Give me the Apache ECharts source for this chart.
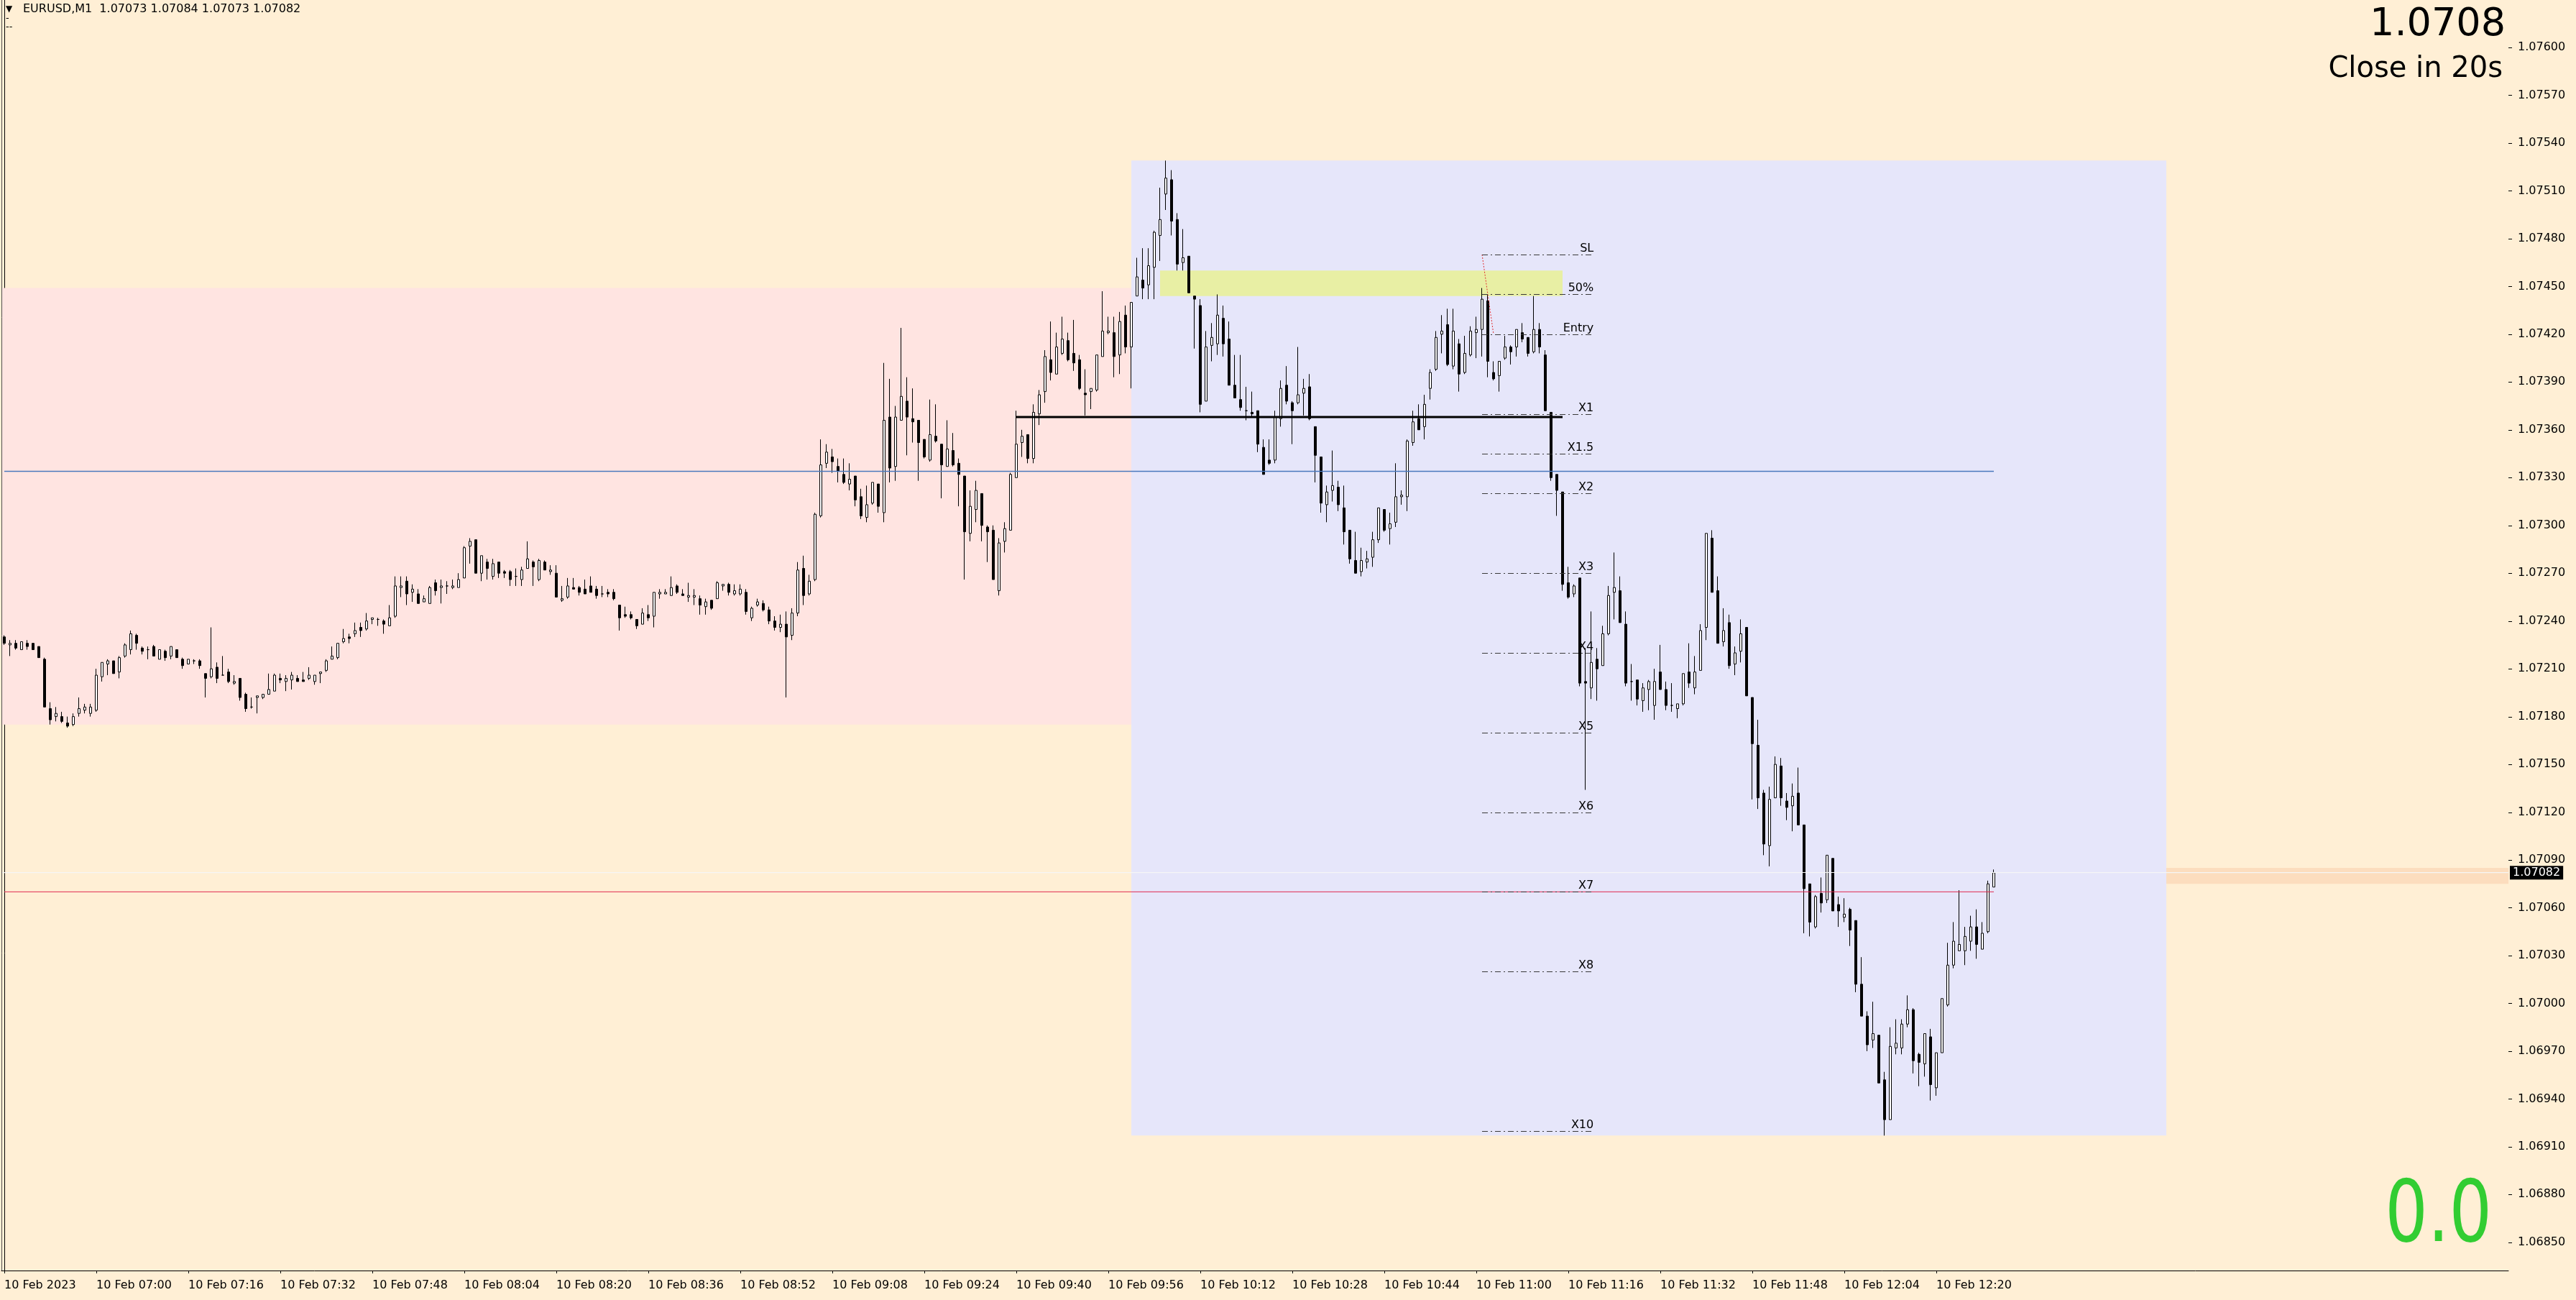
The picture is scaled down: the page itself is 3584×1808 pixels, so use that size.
<!DOCTYPE html>
<html>
<head>
<meta charset="utf-8">
<title>EURUSD,M1</title>
<script src="https://cdn.jsdelivr.net/npm/echarts@6.0.0/dist/echarts.min.js"></script>
<style>
html,body{margin:0;padding:0;background:#FFEFD5;overflow:hidden;}
#chart{width:3584px;height:1808px;}
</style>
</head>
<body>
<div id="chart"></div>
<script>
const FONT = '"DejaVu Sans", Verdana, sans-serif';

// ---- axis categories / ticks ----
const startHour = 6, startMinute = 44, slotCount = 436;
const xTickLabels = ['10 Feb 2023','10 Feb 07:00','10 Feb 07:16','10 Feb 07:32','10 Feb 07:48','10 Feb 08:04','10 Feb 08:20','10 Feb 08:36','10 Feb 08:52','10 Feb 09:08','10 Feb 09:24','10 Feb 09:40','10 Feb 09:56','10 Feb 10:12','10 Feb 10:28','10 Feb 10:44','10 Feb 11:00','10 Feb 11:16','10 Feb 11:32','10 Feb 11:48','10 Feb 12:04','10 Feb 12:20'];
const xTickStep = 16;
const yTickValues = [1.06850,1.06880,1.06910,1.06940,1.06970,1.07000,1.07030,1.07060,1.07090,1.07120,1.07150,1.07180,1.07210,1.07240,1.07270,1.07300,1.07330,1.07360,1.07390,1.07420,1.07450,1.07480,1.07510,1.07540,1.07570,1.07600];
const yMin = 1.068323, yMax = 1.076298;

// ---- candles (M1, 06:44 .. 12:30) ----
const opens = [
1.07230,1.07225,1.07226,1.07222,1.07226,1.07226,1.07224,1.07216,1.07185,1.07180,
1.07180,1.07176,1.07175,1.07182,1.07184,1.07182,1.07184,1.07205,1.07213,1.07215,
1.07208,1.07218,1.07222,1.07231,1.07223,1.07222,1.07224,1.07216,1.07221,1.07218,
1.07222,1.07216,1.07213,1.07215,1.07215,1.07207,1.07205,1.07211,1.07206,1.07208,
1.07201,1.07204,1.07194,1.07186,1.07192,1.07192,1.07194,1.07196,1.07204,1.07202,
1.07203,1.07204,1.07203,1.07204,1.07202,1.07207,1.07209,1.07216,1.07217,1.07227,
1.07230,1.07232,1.07236,1.07235,1.07241,1.07241,1.07240,1.07237,1.07243,1.07261,
1.07265,1.07258,1.07257,1.07252,1.07251,1.07264,1.07261,1.07262,1.07261,1.07261,
1.07267,1.07287,1.07291,1.07270,1.07277,1.07268,1.07277,1.07271,1.07271,1.07268,
1.07266,1.07273,1.07277,1.07266,1.07277,1.07271,1.07270,1.07253,1.07255,1.07261,
1.07261,1.07260,1.07262,1.07260,1.07257,1.07258,1.07258,1.07250,1.07244,1.07244,
1.07241,1.07238,1.07244,1.07243,1.07257,1.07257,1.07256,1.07262,1.07257,1.07255,
1.07255,1.07254,1.07249,1.07253,1.07254,1.07262,1.07263,1.07257,1.07257,1.07258,
1.07242,1.07250,1.07251,1.07247,1.07240,1.07236,1.07238,1.07231,1.07245,1.07273,
1.07257,1.07266,1.07306,1.07339,1.07343,1.07337,1.07332,1.07326,1.07331,1.07318,
1.07305,1.07314,1.07326,1.07308,1.07368,1.07337,1.07366,1.07378,1.07367,1.07366,
1.07354,1.07341,1.07356,1.07351,1.07337,1.07347,1.07339,1.07331,1.07295,1.07310,
1.07320,1.07299,1.07297,1.07259,1.07290,1.07297,1.07330,1.07352,1.07357,1.07342,
1.07370,1.07384,1.07404,1.07395,1.07408,1.07416,1.07408,1.07404,1.07383,1.07384,
1.07385,1.07406,1.07421,1.07421,1.07407,1.07432,1.07412,1.07444,1.07454,1.07451,
1.07462,1.07482,1.07508,1.07517,1.07492,1.07465,1.07469,1.07444,1.07438,1.07378,
1.07413,1.07414,1.07430,1.07417,1.07388,1.07379,1.07372,1.07371,1.07372,1.07349,
1.07341,1.07341,1.07367,1.07388,1.07377,1.07377,1.07383,1.07387,1.07362,1.07343,
1.07313,1.07322,1.07324,1.07311,1.07297,1.07278,1.07271,1.07277,1.07280,1.07291,
1.07310,1.07298,1.07302,1.07318,1.07318,1.07352,1.07367,1.07362,1.07386,1.07398,
1.07420,1.07426,1.07400,1.07414,1.07396,1.07407,1.07421,1.07423,1.07441,1.07396,
1.07394,1.07405,1.07412,1.07412,1.07421,1.07418,1.07409,1.07423,1.07407,1.07371,
1.07332,1.07321,1.07264,1.07257,1.07267,1.07202,1.07198,1.07216,1.07212,1.07232,
1.07258,1.07259,1.07238,1.07202,1.07203,1.07190,1.07197,1.07187,1.07208,1.07197,
1.07187,1.07185,1.07188,1.07208,1.07198,1.07209,1.07236,1.07292,1.07259,1.07227,
1.07239,1.07213,1.07221,1.07236,1.07192,1.07162,1.07132,1.07099,1.07129,1.07149,
1.07127,1.07124,1.07132,1.07112,1.07075,1.07048,1.07069,1.07065,1.07091,1.07062,
1.07054,1.07059,1.07052,1.07012,1.06992,1.06977,1.06980,1.06952,1.06927,1.06972,
1.06972,1.06987,1.06996,1.06968,1.06962,1.06979,1.06947,1.06969,1.06999,1.07024,
1.07033,1.07033,1.07039,1.07048,1.07034,1.07045,1.07073];
const closes = [
1.07226,1.07226,1.07223,1.07227,1.07224,1.07222,1.07217,1.07186,1.07178,1.07182,
1.07177,1.07174,1.07180,1.07185,1.07186,1.07186,1.07206,1.07214,1.07215,1.07207,
1.07217,1.07225,1.07232,1.07226,1.07221,1.07222,1.07218,1.07222,1.07217,1.07224,
1.07217,1.07212,1.07216,1.07215,1.07212,1.07204,1.07210,1.07204,1.07206,1.07202,
1.07202,1.07192,1.07185,1.07186,1.07193,1.07194,1.07197,1.07206,1.07203,1.07204,
1.07206,1.07202,1.07202,1.07206,1.07206,1.07208,1.07215,1.07218,1.07226,1.07229,
1.07229,1.07234,1.07234,1.07240,1.07242,1.07241,1.07238,1.07242,1.07262,1.07262,
1.07257,1.07260,1.07251,1.07254,1.07261,1.07259,1.07262,1.07262,1.07262,1.07266,
1.07286,1.07290,1.07270,1.07281,1.07273,1.07276,1.07270,1.07270,1.07266,1.07268,
1.07272,1.07279,1.07274,1.07278,1.07272,1.07272,1.07255,1.07254,1.07262,1.07260,
1.07258,1.07257,1.07258,1.07256,1.07257,1.07257,1.07254,1.07242,1.07243,1.07242,
1.07237,1.07245,1.07242,1.07258,1.07258,1.07258,1.07261,1.07258,1.07256,1.07256,
1.07256,1.07250,1.07252,1.07248,1.07264,1.07263,1.07258,1.07259,1.07260,1.07246,
1.07248,1.07252,1.07247,1.07240,1.07236,1.07238,1.07230,1.07245,1.07272,1.07256,
1.07265,1.07307,1.07338,1.07346,1.07340,1.07334,1.07327,1.07329,1.07316,1.07306,
1.07313,1.07327,1.07312,1.07366,1.07336,1.07368,1.07381,1.07368,1.07365,1.07352,
1.07343,1.07357,1.07353,1.07338,1.07348,1.07338,1.07332,1.07296,1.07312,1.07322,
1.07300,1.07296,1.07266,1.07289,1.07298,1.07332,1.07351,1.07356,1.07342,1.07371,
1.07382,1.07406,1.07396,1.07412,1.07417,1.07404,1.07402,1.07386,1.07382,1.07386,
1.07407,1.07422,1.07422,1.07406,1.07428,1.07412,1.07440,1.07456,1.07449,1.07463,
1.07484,1.07492,1.07518,1.07491,1.07464,1.07468,1.07446,1.07442,1.07376,1.07412,
1.07418,1.07432,1.07414,1.07388,1.07380,1.07374,1.07372,1.07370,1.07351,1.07332,
1.07339,1.07368,1.07386,1.07378,1.07372,1.07382,1.07386,1.07367,1.07344,1.07314,
1.07321,1.07325,1.07313,1.07296,1.07279,1.07270,1.07278,1.07279,1.07291,1.07311,
1.07297,1.07301,1.07318,1.07319,1.07353,1.07365,1.07360,1.07376,1.07396,1.07418,
1.07422,1.07401,1.07422,1.07395,1.07408,1.07422,1.07423,1.07442,1.07403,1.07392,
1.07403,1.07412,1.07409,1.07423,1.07417,1.07408,1.07423,1.07412,1.07372,1.07330,
1.07322,1.07263,1.07255,1.07262,1.07201,1.07201,1.07214,1.07210,1.07232,1.07256,
1.07261,1.07239,1.07201,1.07202,1.07191,1.07198,1.07202,1.07202,1.07197,1.07187,
1.07187,1.07188,1.07207,1.07201,1.07208,1.07234,1.07295,1.07258,1.07226,1.07234,
1.07212,1.07220,1.07232,1.07193,1.07163,1.07129,1.07100,1.07128,1.07150,1.07129,
1.07123,1.07130,1.07112,1.07072,1.07051,1.07067,1.07063,1.07093,1.07058,1.07058,
1.07056,1.07046,1.07012,1.06992,1.06974,1.06981,1.06950,1.06927,1.06973,1.06975,
1.06987,1.06996,1.06964,1.06963,1.06981,1.06949,1.06969,1.07003,1.07024,1.07039,
1.07037,1.07042,1.07048,1.07037,1.07044,1.07075,1.07082];
const lows = [
1.07225,1.07218,1.07222,1.07222,1.07222,1.07222,1.07217,1.07186,1.07175,1.07177,
1.07176,1.07173,1.07174,1.07180,1.07182,1.07180,1.07183,1.07202,1.07206,1.07207,
1.07204,1.07217,1.07219,1.07222,1.07219,1.07216,1.07218,1.07216,1.07215,1.07216,
1.07217,1.07210,1.07213,1.07213,1.07210,1.07192,1.07204,1.07201,1.07206,1.07201,
1.07200,1.07190,1.07183,1.07185,1.07182,1.07191,1.07194,1.07196,1.07201,1.07196,
1.07197,1.07202,1.07202,1.07203,1.07200,1.07201,1.07208,1.07216,1.07216,1.07226,
1.07226,1.07230,1.07230,1.07234,1.07238,1.07237,1.07232,1.07237,1.07242,1.07255,
1.07250,1.07252,1.07251,1.07252,1.07251,1.07256,1.07251,1.07257,1.07260,1.07261,
1.07267,1.07276,1.07270,1.07265,1.07266,1.07266,1.07267,1.07267,1.07262,1.07262,
1.07262,1.07273,1.07262,1.07265,1.07272,1.07269,1.07255,1.07252,1.07254,1.07260,
1.07256,1.07257,1.07258,1.07254,1.07255,1.07255,1.07253,1.07234,1.07242,1.07241,
1.07235,1.07238,1.07240,1.07236,1.07254,1.07257,1.07256,1.07257,1.07256,1.07252,
1.07250,1.07244,1.07244,1.07247,1.07254,1.07259,1.07256,1.07256,1.07256,1.07244,
1.07240,1.07249,1.07246,1.07238,1.07234,1.07233,1.07192,1.07228,1.07243,1.07250,
1.07256,1.07265,1.07305,1.07336,1.07333,1.07327,1.07326,1.07322,1.07312,1.07304,
1.07302,1.07313,1.07308,1.07302,1.07327,1.07328,1.07366,1.07344,1.07352,1.07328,
1.07342,1.07340,1.07352,1.07317,1.07337,1.07337,1.07312,1.07266,1.07290,1.07302,
1.07290,1.07277,1.07266,1.07256,1.07283,1.07297,1.07330,1.07343,1.07339,1.07339,
1.07363,1.07377,1.07391,1.07395,1.07407,1.07403,1.07397,1.07385,1.07369,1.07373,
1.07384,1.07406,1.07420,1.07393,1.07395,1.07408,1.07386,1.07444,1.07442,1.07442,
1.07442,1.07466,1.07498,1.07482,1.07460,1.07460,1.07446,1.07411,1.07371,1.07378,
1.07403,1.07407,1.07406,1.07388,1.07380,1.07372,1.07366,1.07368,1.07346,1.07332,
1.07338,1.07339,1.07362,1.07376,1.07351,1.07376,1.07369,1.07366,1.07327,1.07308,
1.07302,1.07315,1.07309,1.07288,1.07276,1.07270,1.07268,1.07273,1.07274,1.07289,
1.07296,1.07288,1.07299,1.07313,1.07309,1.07350,1.07360,1.07354,1.07379,1.07397,
1.07408,1.07400,1.07398,1.07384,1.07395,1.07406,1.07405,1.07406,1.07393,1.07391,
1.07384,1.07404,1.07401,1.07406,1.07415,1.07406,1.07408,1.07408,1.07372,1.07328,
1.07306,1.07259,1.07254,1.07255,1.07199,1.07134,1.07191,1.07190,1.07212,1.07231,
1.07241,1.07239,1.07199,1.07190,1.07187,1.07183,1.07184,1.07178,1.07197,1.07184,
1.07183,1.07179,1.07187,1.07198,1.07194,1.07209,1.07228,1.07258,1.07226,1.07224,
1.07210,1.07206,1.07214,1.07193,1.07128,1.07122,1.07093,1.07086,1.07129,1.07124,
1.07115,1.07108,1.07112,1.07044,1.07042,1.07047,1.07057,1.07063,1.07058,1.07048,
1.07051,1.07036,1.07007,1.06992,1.06970,1.06972,1.06950,1.06917,1.06927,1.06968,
1.06968,1.06985,1.06956,1.06948,1.06954,1.06939,1.06942,1.06969,1.06998,1.07022,
1.07033,1.07024,1.07033,1.07028,1.07034,1.07044,1.07073];
const highs = [
1.07231,1.07228,1.07228,1.07227,1.07228,1.07226,1.07224,1.07217,1.07189,1.07186,
1.07183,1.07180,1.07182,1.07192,1.07188,1.07188,1.07210,1.07214,1.07216,1.07215,
1.07218,1.07226,1.07234,1.07232,1.07224,1.07224,1.07225,1.07222,1.07222,1.07224,
1.07222,1.07217,1.07216,1.07216,1.07216,1.07207,1.07236,1.07214,1.07218,1.07210,
1.07206,1.07204,1.07195,1.07192,1.07193,1.07194,1.07207,1.07207,1.07207,1.07206,
1.07208,1.07206,1.07208,1.07211,1.07206,1.07208,1.07216,1.07224,1.07226,1.07235,
1.07232,1.07239,1.07239,1.07245,1.07242,1.07242,1.07241,1.07250,1.07268,1.07268,
1.07268,1.07263,1.07260,1.07256,1.07262,1.07266,1.07266,1.07265,1.07266,1.07270,
1.07287,1.07292,1.07291,1.07281,1.07279,1.07279,1.07277,1.07272,1.07272,1.07273,
1.07274,1.07290,1.07278,1.07279,1.07278,1.07275,1.07275,1.07262,1.07267,1.07267,
1.07262,1.07266,1.07268,1.07262,1.07262,1.07260,1.07260,1.07250,1.07249,1.07246,
1.07241,1.07248,1.07250,1.07258,1.07260,1.07260,1.07268,1.07263,1.07260,1.07264,
1.07260,1.07256,1.07254,1.07253,1.07265,1.07263,1.07264,1.07263,1.07263,1.07260,
1.07249,1.07254,1.07253,1.07249,1.07243,1.07244,1.07246,1.07248,1.07277,1.07281,
1.07269,1.07308,1.07354,1.07351,1.07348,1.07342,1.07342,1.07339,1.07331,1.07323,
1.07325,1.07327,1.07326,1.07402,1.07392,1.07375,1.07424,1.07393,1.07386,1.07366,
1.07354,1.07379,1.07376,1.07351,1.07366,1.07358,1.07342,1.07331,1.07322,1.07328,
1.07320,1.07300,1.07300,1.07292,1.07302,1.07333,1.07372,1.07360,1.07357,1.07376,
1.07385,1.07410,1.07428,1.07421,1.07431,1.07421,1.07429,1.07407,1.07398,1.07386,
1.07407,1.07447,1.07431,1.07431,1.07434,1.07438,1.07440,1.07468,1.07474,1.07474,
1.07485,1.07512,1.07529,1.07523,1.07496,1.07486,1.07469,1.07444,1.07442,1.07422,
1.07427,1.07445,1.07438,1.07428,1.07407,1.07407,1.07387,1.07384,1.07372,1.07354,
1.07354,1.07372,1.07391,1.07400,1.07378,1.07412,1.07392,1.07395,1.07362,1.07343,
1.07325,1.07347,1.07328,1.07325,1.07297,1.07296,1.07286,1.07284,1.07296,1.07311,
1.07310,1.07308,1.07339,1.07322,1.07354,1.07372,1.07376,1.07382,1.07398,1.07422,
1.07432,1.07436,1.07436,1.07417,1.07419,1.07425,1.07431,1.07449,1.07445,1.07403,
1.07403,1.07419,1.07413,1.07423,1.07427,1.07418,1.07444,1.07427,1.07410,1.07371,
1.07332,1.07321,1.07274,1.07263,1.07267,1.07223,1.07246,1.07223,1.07237,1.07262,
1.07283,1.07268,1.07246,1.07213,1.07203,1.07201,1.07203,1.07210,1.07225,1.07202,
1.07201,1.07188,1.07207,1.07226,1.07218,1.07238,1.07295,1.07297,1.07268,1.07248,
1.07244,1.07224,1.07241,1.07236,1.07192,1.07178,1.07134,1.07136,1.07155,1.07154,
1.07132,1.07138,1.07148,1.07112,1.07075,1.07068,1.07079,1.07093,1.07091,1.07067,
1.07066,1.07060,1.07052,1.07029,1.06995,1.07001,1.06980,1.06957,1.06985,1.06990,
1.06990,1.07005,1.06997,1.06969,1.06981,1.06984,1.06969,1.07003,1.07038,1.07051,
1.07071,1.07048,1.07055,1.07059,1.07051,1.07077,1.07084];

// ---- objects drawn on the chart (bar index positions, prices) ----
const zoneStart  = [-20, 196, 201, 376];
const zoneEnd    = [196, 376, 271, 470];
const zoneTop    = [1.07449, 1.07529, 1.07460, 1.07085];
const zoneBottom = [1.07175, 1.06917, 1.07444, 1.07075];
const zoneColors = ['#FFE4E1', '#E6E6FA', '#E8EFA4', '#FCDDBE'];

const levelNames  = ['SL','50%','Entry','X1','X1.5','X2','X3','X4','X5','X6','X7','X8','X10'];
const levelPrices = [1.07470,1.07445,1.07420,1.07370,1.07345,1.07320,1.07270,1.07220,1.07170,1.07120,1.07070,1.07020,1.06920];
const levelFrom = 257, levelTo = 276.4;

const blueLine  = {from: 0,   to: 346, price: 1.07334};
const redLine   = {from: 0,   to: 346, price: 1.07070};
const breakLine = {from: 176, to: 271, price: 1.07368};
const slDiagonal = [[257, 1.07470], [259, 1.07420]];

const bidPrice = 1.07082;
const headerText = 'EURUSD,M1  1.07073 1.07084 1.07073 1.07082';
const bigPriceText = '1.0708';
const countdownText = 'Close in 20s';
const spreadText = '0.0';

// ---- build ----
const lastBar = opens.length - 1;
const categories = [];
for (let i = 0; i < slotCount; i++) {
  const t = startHour * 60 + startMinute + i;
  categories.push(String(Math.floor(t / 60)).padStart(2, '0') + ':' + String(t % 60).padStart(2, '0'));
}
const candleData = opens.map((o, i) => [o, closes[i], lows[i], highs[i]]);
const zoneData = zoneStart.map((s, i) => [s, zoneEnd[i], zoneTop[i], zoneBottom[i]]);
const levelData = levelPrices.map(p => [levelFrom, levelTo, p]);
const priceTickData = yTickValues.map(v => [slotCount - 0.5, v]);
const isTick = (i) => i % xTickStep === 0 && i <= lastBar;

function renderZone(params, api) {
  const a = api.coord([api.value(0), api.value(2)]);
  const b = api.coord([api.value(1), api.value(3)]);
  return {type: 'rect', shape: {x: a[0], y: a[1], width: b[0] - a[0], height: b[1] - a[1]},
          style: {fill: zoneColors[params.dataIndex]}};
}
function renderLevel(params, api) {
  const a = api.coord([api.value(0), api.value(2)]);
  const b = api.coord([api.value(1), api.value(2)]);
  const y = Math.round(a[1]) + 0.5;
  return {type: 'group', children: [
    {type: 'line', shape: {x1: a[0], y1: y, x2: b[0], y2: y},
     style: {stroke: '#3a3a3a', lineWidth: 1, lineDash: [8, 4, 2, 4]}},
    {type: 'text', style: {text: levelNames[params.dataIndex], x: b[0], y: y - 1,
      align: 'right', verticalAlign: 'bottom', font: '16px ' + FONT, fill: '#000'}}
  ]};
}
function renderPriceTick(params, api) {
  const p = api.coord([api.value(0), api.value(1)]);
  const y = Math.round(p[1]) + 0.5;
  return {type: 'line', shape: {x1: p[0], y1: y, x2: p[0] + 5, y2: y}, style: {stroke: '#000', lineWidth: 1}};
}
function seg(obj) { return [[obj.from, obj.price], [obj.to, obj.price]]; }

const chart = echarts.init(document.getElementById('chart'), null, {renderer: 'canvas', width: 3584, height: 1808});
chart.setOption({
  animation: false,
  backgroundColor: '#FFEFD5',
  grid: {left: 2, top: 0, width: 3488, height: 1767, containLabel: false},
  xAxis: [
    {type: 'category', data: categories, boundaryGap: true,
     axisLine: {show: true, lineStyle: {color: '#000', width: 1}},
     axisTick: {show: true, alignWithLabel: true, length: 4, interval: isTick, lineStyle: {color: '#000'}},
     axisLabel: {show: true, interval: isTick, align: 'left', margin: 13, fontSize: 16, fontFamily: FONT, color: '#000',
       formatter: (v, i) => xTickLabels[i / xTickStep] || ''},
     splitLine: {show: false}},
    {type: 'value', min: -0.5, max: slotCount - 0.5, show: false}
  ],
  yAxis: [
    {type: 'value', position: 'right', min: yMin, max: yMax,
     axisLine: {show: true, lineStyle: {color: '#000', width: 1}},
     axisTick: {show: false},
     axisLabel: {show: true, customValues: yTickValues, margin: 13, fontSize: 16, fontFamily: FONT, color: '#000',
       formatter: v => v.toFixed(5)},
     splitLine: {show: false}, splitArea: {show: false}, minorTick: {show: false}, minorSplitLine: {show: false}}
  ],
  series: [
    {type: 'custom', name: 'zones', xAxisIndex: 1, yAxisIndex: 0, data: zoneData, renderItem: renderZone,
     encode: {x: [0, 1], y: [2, 3]}, clip: true, silent: true, z: 1},
    {type: 'candlestick', name: 'EURUSD', xAxisIndex: 0, yAxisIndex: 0, data: candleData, barWidth: 4, z: 3,
     itemStyle: {color: '#FFFFFF', color0: '#000000', borderColor: '#000000', borderColor0: '#000000', borderWidth: 1}},
    {type: 'line', name: 'bid', xAxisIndex: 1, yAxisIndex: 0, data: [[-0.5, bidPrice], [slotCount - 0.5, bidPrice]],
     symbol: 'none', silent: true, z: 2, lineStyle: {color: '#F6F6F6', width: 1},
     markLine: {symbol: 'none', silent: true, animation: false, precision: 5,
       lineStyle: {color: '#F6F6F6', width: 1, type: 'solid'},
       label: {show: true, position: 'end', distance: 2, formatter: bidPrice.toFixed(5),
         backgroundColor: '#000', color: '#fff', fontSize: 16, fontFamily: FONT, padding: [2, 4, 1, 4]},
       data: [{yAxis: bidPrice}]}},
    {type: 'line', name: 'blue', xAxisIndex: 1, yAxisIndex: 0, data: seg(blueLine), symbol: 'none', silent: true, z: 4,
     lineStyle: {color: '#4A78BD', width: 1.5}},
    {type: 'line', name: 'red', xAxisIndex: 1, yAxisIndex: 0, data: seg(redLine), symbol: 'none', silent: true, z: 4,
     lineStyle: {color: '#E0284F', width: 1}},
    {type: 'line', name: 'break', xAxisIndex: 1, yAxisIndex: 0, data: seg(breakLine), symbol: 'none', silent: true, z: 4,
     lineStyle: {color: '#000', width: 3}},
    {type: 'line', name: 'sl', xAxisIndex: 1, yAxisIndex: 0, data: slDiagonal, symbol: 'none', silent: true, z: 4,
     lineStyle: {color: '#E03030', width: 1, type: [2, 2]}},
    {type: 'custom', name: 'levels', xAxisIndex: 1, yAxisIndex: 0, data: levelData, renderItem: renderLevel,
     encode: {x: [0, 1], y: 2}, clip: true, silent: true, z: 5},
    {type: 'custom', name: 'priceTicks', xAxisIndex: 1, yAxisIndex: 0, data: priceTickData, renderItem: renderPriceTick,
     encode: {x: 0, y: 1}, clip: false, silent: true, z: 5}
  ],
  graphic: [
    {type: 'line', z: 10, silent: true, shape: {x1: 2.5, y1: 0, x2: 2.5, y2: 1767}, style: {stroke: '#505050', lineWidth: 1}},
    {type: 'text', x: 8, y: 13, z: 10, style: {text: '▼', font: '12px ' + FONT, fill: '#000', align: 'left', verticalAlign: 'middle'}},
    {type: 'text', x: 32, y: 13, z: 10, style: {text: headerText, font: '16px ' + FONT, fill: '#000', align: 'left', verticalAlign: 'middle'}},
    {type: 'text', x: 8, y: 26, z: 10, style: {text: '-', font: '13px ' + FONT, fill: '#000', align: 'left', verticalAlign: 'middle'}},
    {type: 'text', x: 8, y: 38, z: 10, style: {text: '--', font: '13px ' + FONT, fill: '#000', align: 'left', verticalAlign: 'middle'}},
    {type: 'text', x: 3486, y: 35, z: 10, style: {text: bigPriceText, font: '54px ' + FONT, fill: '#000', align: 'right', verticalAlign: 'middle'}},
    {type: 'text', x: 3482, y: 97, z: 10, style: {text: countdownText, font: '40px ' + FONT, fill: '#000', align: 'right', verticalAlign: 'middle'}},
    {type: 'text', x: 3467, y: 1695, z: 10, scaleX: 0.78, style: {text: spreadText, font: '120px ' + FONT, fill: '#32CD32', align: 'right', verticalAlign: 'middle'}}
  ]
});
</script>
</body>
</html>
